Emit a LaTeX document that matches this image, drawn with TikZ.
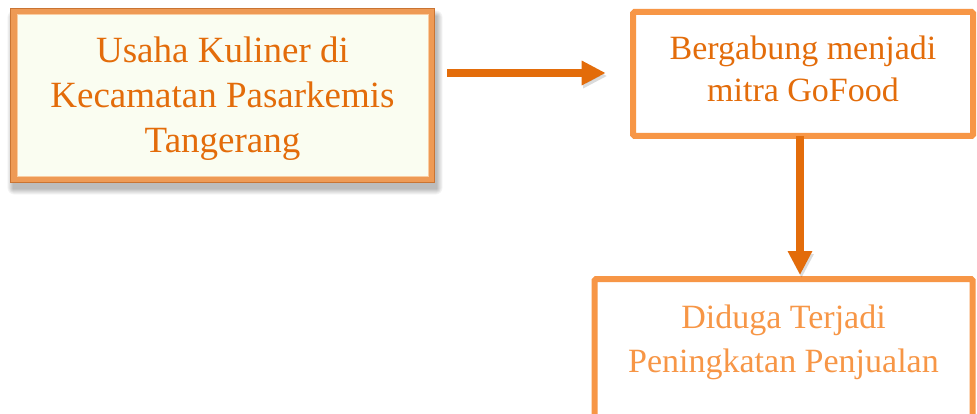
\documentclass[tikz,border=0pt]{standalone}
\usepackage{fontspec}
\setmainfont{Liberation Serif}
\usetikzlibrary{arrows.meta,calc}
\definecolor{darkor}{HTML}{E36C0A}
\definecolor{lightor}{HTML}{F79646}
\definecolor{frameor}{HTML}{EE9A55}
\definecolor{frameedge}{HTML}{C97433}
\definecolor{framehi}{HTML}{F9CDA2}
\definecolor{boxfill}{HTML}{FAFDF1}
\tikzset{
  bevelbox/.style={draw=frameor, line width=7.5pt, fill=boxfill,
    minimum width=417.5pt, minimum height=168pt, inner sep=0pt},
  plainbox/.style={draw=lightor, line width=6pt, rounded corners=1.5pt,
    fill=white, inner sep=0pt},
  boxtext/.style={align=center, inner sep=0pt},
  flowarrow/.style={draw=darkor, line width=8pt,
    -{Triangle[width=23pt,length=24pt]},
    preaction={draw=black!70, opacity=0.2,
      transform canvas={xshift=1.5pt,yshift=-3pt}}}
}
\begin{document}
\begin{tikzpicture}[x=1pt,y=-1pt]
  \clip (0,0) rectangle (977,414);
  \fill[white] (0,0) rectangle (977,414);
  % soft shadow of box 1
  \foreach \i in {0,...,7}
    \fill[black, opacity=0.035, rounded corners=\i pt]
      (13-\i*0.8,16-\i*0.8) rectangle (437+\i*0.8,189+\i*0.8);
  % box 1
  \node (box1) [bevelbox] at (222.5,95.5) {};
  \draw[frameedge, line width=1pt]
    ($(box1.north west)+(0.5,0.5)$) rectangle ($(box1.south east)+(-0.5,-0.5)$);
  \draw[framehi, line width=1pt]
    ($(box1.north west)+(7,7)$) rectangle ($(box1.south east)+(-7,-7)$);
  \node (t1) [boxtext, text=darkor, font=\fontsize{37}{45}\selectfont]
    at (222.5,99) {Usaha Kuliner di\\Kecamatan Pasarkemis\\Tangerang};
  % box 2
  \node (box2) [plainbox, minimum width=340pt, minimum height=124pt]
    at (803,74) {};
  \node (t2) [boxtext, text=darkor, font=\fontsize{34}{42}\selectfont]
    at (803,69) {Bergabung menjadi\\mitra GoFood};
  % box 3
  \node (box3) [plainbox, minimum width=378pt, minimum height=161pt]
    at (783.5,359.5) {};
  \node (t3) [boxtext, text=lightor, font=\fontsize{34}{44}\selectfont]
    at (783.5,342) {Diduga Terjadi\\Peningkatan Penjualan};
  % arrows
  \draw[flowarrow] ($(box1.east |- box2.west)+(12,-1)$)
    -- ($(box2.west)+(-24.3,-1)$);
  \draw[flowarrow] ($(box2.south)+(-3,-3)$)
    -- ($(box2.south |- box3.north)+(-3,-1)$);
\end{tikzpicture}
\end{document}
